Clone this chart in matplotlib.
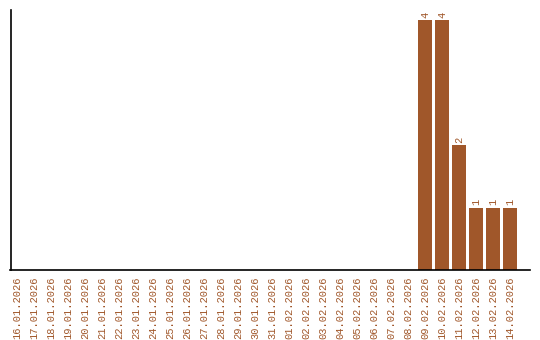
import matplotlib
matplotlib.use("Agg")
import matplotlib.pyplot as plt

# ── Data ──────────────────────────────────────────────────────────────────────
dates = [
    "16.01.2026", "17.01.2026", "18.01.2026", "19.01.2026", "20.01.2026",
    "21.01.2026", "22.01.2026", "23.01.2026", "24.01.2026", "25.01.2026",
    "26.01.2026", "27.01.2026", "28.01.2026", "29.01.2026", "30.01.2026",
    "31.01.2026", "01.02.2026", "02.02.2026", "03.02.2026", "04.02.2026",
    "05.02.2026", "06.02.2026", "07.02.2026", "08.02.2026", "09.02.2026",
    "10.02.2026", "11.02.2026", "12.02.2026", "13.02.2026", "14.02.2026",
]
counts = [0] * 24 + [4, 4, 2, 1, 1, 1]

color = "#a0572a"

fig = plt.figure(figsize=(5.4, 3.4), dpi=100)
ax = fig.add_axes([10.5 / 540, 70 / 340, (530 - 10.5) / 540, 260 / 340])

x = list(range(len(dates)))
ax.bar(x, counts, width=0.82, color=color)

for xi, v in zip(x, counts):
    if v > 0:
        ax.text(xi, v + 0.04, str(v), rotation=90, ha="center", va="bottom",
                fontsize=7.5, family="Liberation Mono", color=color)

ax.set_xlim(-0.38, 30.18)
ax.set_ylim(0, 4.16)
ax.set_xticks(x)
ax.set_xticklabels(dates, rotation=90, fontsize=7.5, family="Liberation Mono", color=color)
ax.tick_params(axis="x", length=0, pad=5)
ax.set_yticks([])
for s in ["top", "right"]:
    ax.spines[s].set_visible(False)
ax.spines["left"].set_linewidth(1.2)
ax.spines["bottom"].set_linewidth(1.2)

fig.savefig("out.png", dpi=100)
